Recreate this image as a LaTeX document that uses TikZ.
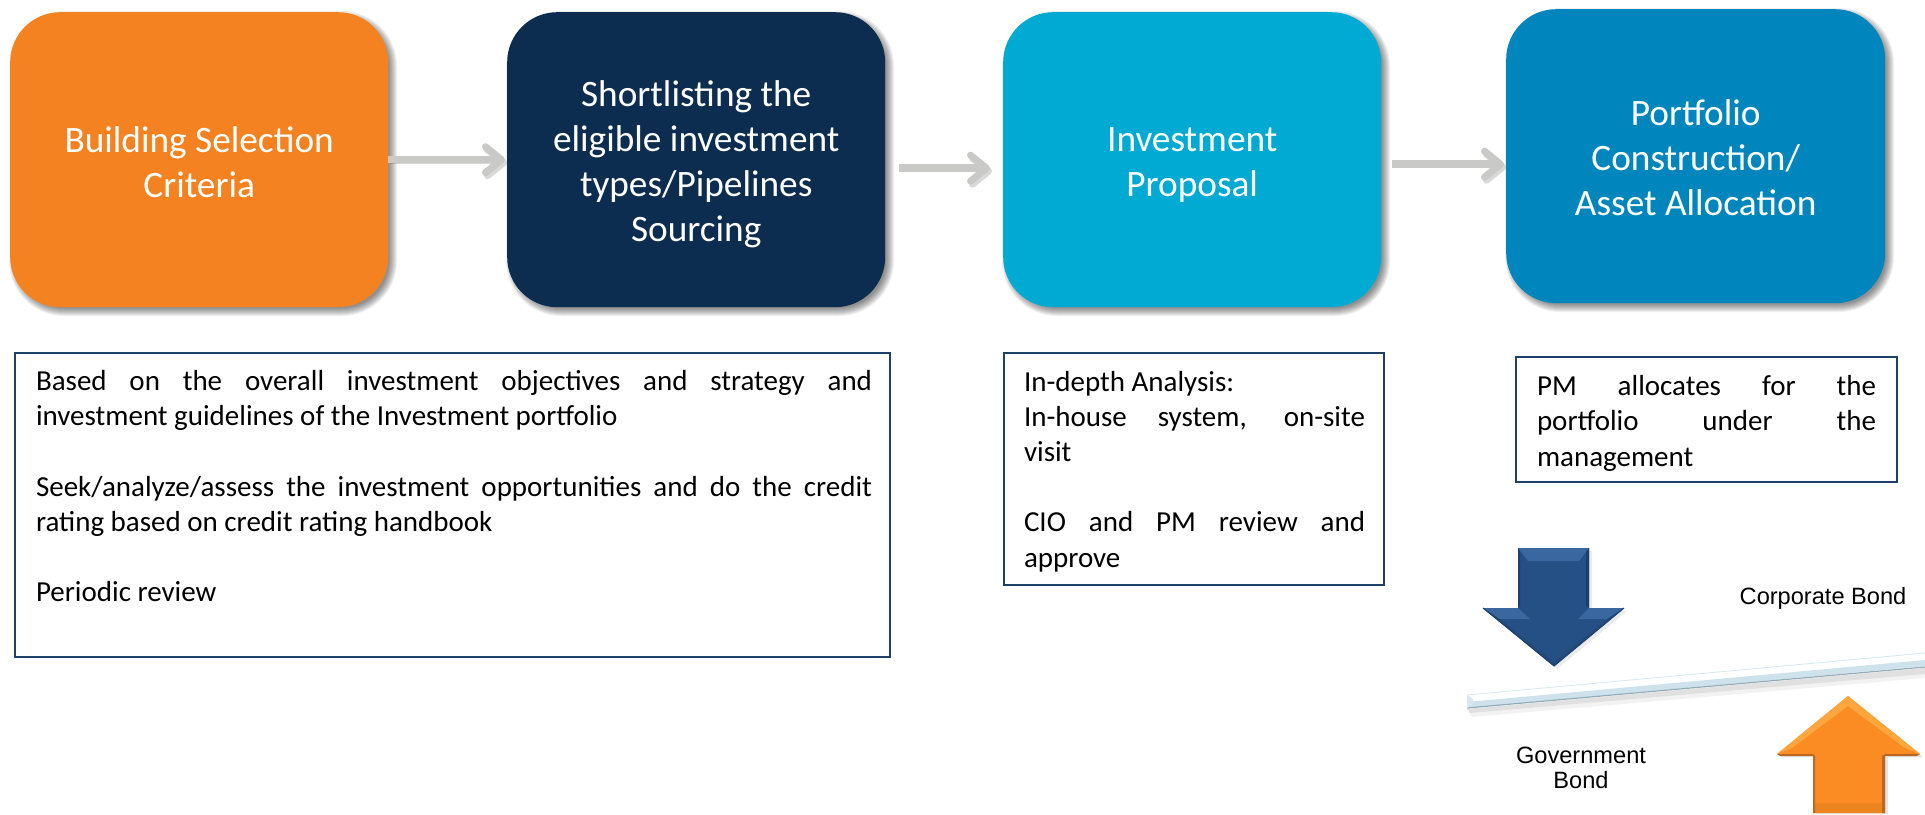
\documentclass[tikz,border=0pt]{standalone}
\usepackage{fontspec}
\setmainfont{Carlito}
\newfontfamily\arialfont{Liberation Sans}
\usetikzlibrary{arrows.meta}
\definecolor{corange}{HTML}{F58220}
\definecolor{cnavy}{HTML}{0C2D4F}
\definecolor{ccyan}{HTML}{00AAD2}
\definecolor{cblue}{HTML}{0086BC}
\definecolor{cborder}{HTML}{1F4068}
\definecolor{cgray}{HTML}{C9C9C7}
\definecolor{dnbase}{HTML}{255086}
\definecolor{dnlight}{HTML}{3A67A0}
\definecolor{dnmid}{HTML}{224A7C}
\definecolor{dndark}{HTML}{1C3F6C}
\definecolor{upbase}{HTML}{FB8C24}
\definecolor{uplight}{HTML}{FFA63E}
\definecolor{upmid}{HTML}{EE8420}
\definecolor{updark}{HTML}{B96A20}
\definecolor{beamblue}{HTML}{CDE2EC}
\definecolor{beamedge}{HTML}{93ABB8}
\definecolor{beamtop}{HTML}{D6E8EE}
\newcommand{\softshadow}[5]{%
  \foreach \e in {5,4,...,-3}{%
    \pgfmathsetmacro{\rr}{max(#5+\e,1)}%
    \fill[black,opacity=.06,rounded corners=\rr pt]
      (#1+4-\e,#2+4-\e) rectangle (#3+4+\e,#4+4+\e);
  }%
}
\newcommand{\infotext}[5]{%
  \parbox[c][#2pt][t]{#1pt}{\fontsize{29}{35.2}\selectfont\raggedright\leftskip=#3pt\relax
  \vspace*{#4pt}#5}%
}
\newcommand{\titletext}[2]{%
  \parbox{360pt}{\vspace*{#1pt}\centering\fontsize{37.3}{45}\selectfont #2\par}%
}
\tikzset{
  titlebox/.style={rectangle,rounded corners=50pt,inner sep=0pt,anchor=north west,
    minimum width=378pt,minimum height=295pt,text=white},
  infobox/.style={rectangle,draw=cborder,line width=2pt,inner sep=0pt,anchor=north west,fill=white},
  flowarrow/.style={draw=cgray,line width=7.5pt,
    -{Straight Barb[length=16pt,width=26pt,line width=7pt,round]},
    preaction={draw=black,opacity=.15,transform canvas={shift={(2pt,-3pt)}}}},
  bondlabel/.style={inner sep=0pt,align=center,font=\fontsize{23.6}{25.5}\selectfont\arialfont}
}
\begin{document}
\begin{tikzpicture}[x=1pt,y=-1pt]
\useasboundingbox (0,0) rectangle (1925,814);
\fill[white] (0,0) rectangle (1925,814);
% shadows
\softshadow{10}{12}{388}{307}{50}
\softshadow{507}{12}{885}{307}{50}
\softshadow{1003}{12}{1381}{307}{50}
\softshadow{1506}{9}{1885}{303}{50}
% title boxes
\node[titlebox,fill=corange] (n1) at (10,12) {\titletext{5}{Building Selection\\Criteria}};
\node[titlebox,fill=cnavy] (n2) at (507,12) {\titletext{10}{Shortlisting the\\eligible investment\\types/Pipelines\\Sourcing}};
\node[titlebox,fill=ccyan] (n3) at (1003,12) {\titletext{10}{Investment\\Proposal}};
\node[titlebox,fill=cblue,minimum width=379pt,minimum height=294pt] (n4) at (1506,9) {\titletext{3}{Portfolio\\Construction/\\Asset Allocation}};
% flow arrows
\draw[flowarrow,shorten >=2pt] (n1.east) -- (n2.west);
\draw[flowarrow,shorten <=14pt,shorten >=13pt] ([yshift=-8.5pt]n2.east) -- ([yshift=-8.5pt]n3.west);
\draw[flowarrow,shorten <=11pt,shorten >=2pt] ([yshift=-4.5pt]n3.east) -- ([yshift=-8pt]n4.west);
% info boxes
\node[infobox] (b1) at (14,352) {\infotext{875}{304}{21}{17.5}{%
\makebox[836pt][s]{Based on the overall investment objectives and strategy and}\par
investment guidelines of the Investment portfolio\par
\mbox{}\par
\makebox[836pt][s]{Seek/analyze/assess the investment opportunities and do the credit}\par
rating based on credit rating handbook\par
\mbox{}\par
Periodic review\par}};
\node[infobox] (b2) at (1003,352) {\infotext{380}{232}{20}{18}{%
In-depth Analysis:\par
\makebox[341pt][s]{In-house system, on-site}\par
visit\par
\mbox{}\par
\makebox[341pt][s]{CIO and PM review and}\par
approve\par}};
\node[infobox] (b3) at (1515,356) {\infotext{381}{125}{21}{18.5}{%
\makebox[339pt][s]{PM allocates for the}\par
\makebox[339pt][s]{portfolio under the}\par
management\par}};
% down arrow
\fill[black,opacity=.08] (1521,551)--(1592,551)--(1592,611)--(1627,611)--(1557,669)--(1486,611)--(1521,611)--cycle;
\fill[dnbase] (1518,548)--(1589,548)--(1589,608)--(1624,608)--(1554,666)--(1483,608)--(1518,608)--cycle;
\fill[dnlight] (1518,548)--(1589,548)--(1579,561)--(1528,561)--cycle;
\fill[dnlight] (1483,608)--(1518,608)--(1530,619)--(1500,619)--cycle;
\fill[dnlight] (1624,608)--(1589,608)--(1578,619)--(1607,619)--cycle;
\fill[dnmid] (1500,619)--(1554,662)--(1554,666)--(1483,608)--cycle;
\fill[dnmid] (1607,619)--(1554,662)--(1554,666)--(1624,608)--cycle;
\fill[dndark] (1589,548)--(1589,608)--(1586,606)--(1586,552)--cycle;
\fill[dndark] (1518,548)--(1518,608)--(1520,606)--(1520,552)--cycle;
\draw[dndark,line width=1pt] (1483,608)--(1554,666)--(1624,608);
% beam
\fill[black,opacity=.05] (1467,709)--(1925,668)--(1925,678)--(1472,717)--cycle;
\fill[black,opacity=.07] (1467,709)--(1925,668)--(1925,674)--(1470,713)--cycle;
\fill[white] (1467,695)--(1925,653)--(1925,660)--(1467,702)--cycle;
\draw[beamtop,line width=.8pt] (1467,695)--(1925,653);
\fill[beamblue] (1467,702)--(1925,660)--(1925,666)--(1467,708)--cycle;
\draw[beamedge,line width=1.2pt] (1467,708)--(1925,667);
\fill[beamtop] (1467,695)--(1473,699)--(1473,704)--(1467,708)--cycle;
% up arrow
\fill[black,opacity=.10] (1851,699)--(1923,757)--(1888,757)--(1888,814)--(1816,814)--(1816,757)--(1780,757)--cycle;
\fill[upbase] (1848,696)--(1920,754)--(1885,754)--(1885,813)--(1813,813)--(1813,754)--(1777,754)--cycle;
\fill[uplight] (1848,696)--(1920,754)--(1905,748)--(1848,706)--(1792,748)--(1777,754)--cycle;
\fill[upmid] (1813,803)--(1885,803)--(1885,813)--(1813,813)--cycle;
\fill[updark] (1777,754)--(1813,754)--(1813,756)--(1780,756)--cycle;
\fill[updark] (1920,754)--(1885,754)--(1885,756)--(1917,756)--cycle;
\fill[updark] (1885,754)--(1885,813)--(1882,813)--(1882,756)--cycle;
\fill[updark] (1813,754)--(1813,813)--(1815,813)--(1815,756)--cycle;
% labels
\node[bondlabel,anchor=base] (corp) at (1823,604) {Corporate Bond};
\node[bondlabel,anchor=base] (gov) at (1581,763) {Government};
\node[bondlabel,anchor=base] (bond) at (1581,788) {Bond};
\end{tikzpicture}
\end{document}
